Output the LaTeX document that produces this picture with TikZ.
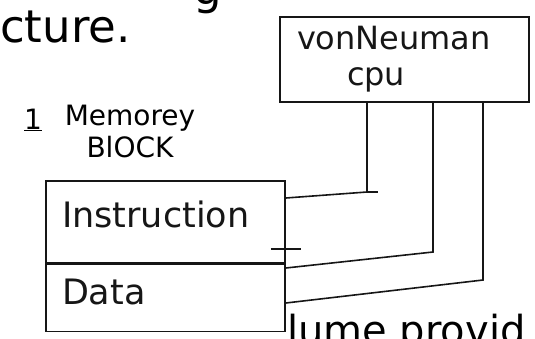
\documentclass[tikz,border=0pt]{standalone}
\usepackage{fontspec}
\setmainfont{DejaVu Sans}
\usepackage{tikz}
\usetikzlibrary{calc}
\definecolor{inkgrey}{RGB}{22,22,22}

\begin{document}
\begin{tikzpicture}[x=1pt,y=-1pt,font=\fontsize{35}{30}\selectfont,
 box/.style={draw,inkgrey,line width=1.6pt},
 memcell/.style={box,minimum width=239pt,text width=207pt,align=left,inner xsep=16pt},
 wire/.style={inkgrey,line width=1.6pt}]
\useasboundingbox (0,0) rectangle (535,338);
\clip (0,0) rectangle (535,338);
% page text cut off at the edges
\node[font=\fontsize{45}{48}\selectfont,anchor=base west,inner sep=0pt] (frag1) at (0,42) {cture.};
\node[font=\fontsize{45}{48}\selectfont,anchor=base west,inner sep=0pt] (frag2) at (193,4) {g};
\node[font=\fontsize{40}{42}\selectfont,anchor=base west,inner sep=0pt] (frag3) at (287,344) {lume provid};
% boxes
\node[box,font=\fontsize{32}{36}\selectfont,minimum width=249pt,minimum height=85pt,
 inner ysep=2pt,text width=215pt,align=left] (cpu) at (404.5,59.5) {vonNeuman\\\hspace*{50pt}cpu};
\node[font=\fontsize{28}{28}\selectfont] (num) at (33,120) {\underline{1}};
\node[font=\fontsize{28}{32}\selectfont,align=center] (lbl) at (130,131) {Memorey\\BlOCK};
\node[memcell,minimum height=82pt,text depth=16pt] (instr) at (165.5,222) {Instruction};
\node[memcell,minimum height=67pt,text depth=13pt,anchor=north] (data) at (instr.south) {Data};
% buses
\coordinate (b1) at (367,192);
\coordinate (b2) at (433,252);
\coordinate (b3) at (483,280);
\draw[wire] (cpu.south -| b1) -- (b1) -- ($(instr.east |- b1)+(0,6)$);
\draw[wire] (b1) -- ++(11,0);
\draw[wire] (cpu.south -| b2) -- (b2) -- ($(data.east |- b2)+(0,16)$);
\draw[wire] (cpu.south -| b3) -- (b3) -- ($(data.east |- b3)+(0,23)$);
\draw[wire] ($(instr.south east)+(-15,-15)$) -- ++(30,0);
\end{tikzpicture}
\end{document}
